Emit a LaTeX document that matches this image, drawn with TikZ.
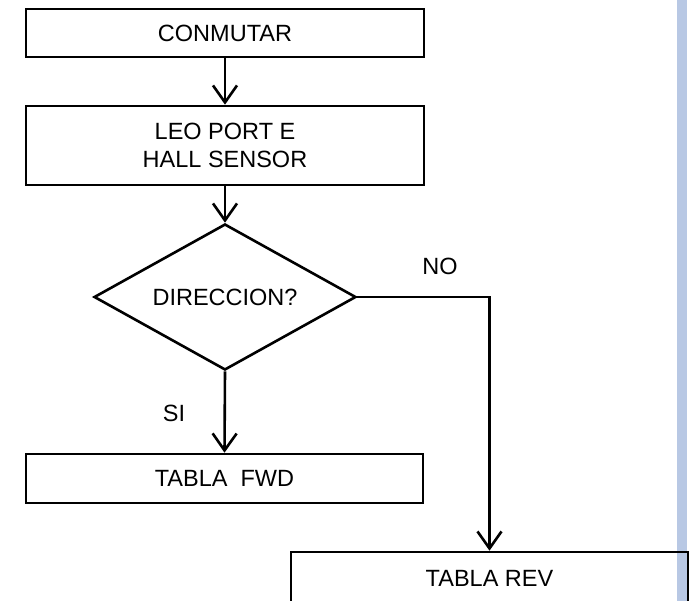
\documentclass[tikz,border=0pt]{standalone}
\usepackage{fontspec}
\setmainfont{Liberation Sans}
\usetikzlibrary{arrows.meta,shapes.geometric}
\definecolor{barblue}{HTML}{B8C8E4}
\begin{document}
\begin{tikzpicture}[x=1pt,y=-1pt,
  every node/.style={font=\fontsize{23.5}{28}\selectfont, inner sep=0pt},
  box/.style={draw, line width=2.6pt, rectangle, minimum width=398pt, align=center},
  decision/.style={draw, line width=2.6pt, diamond, aspect=1.76, minimum width=262pt, minimum height=146pt},
  flow/.style={line width=2.6pt, -{Straight Barb[length=17pt,width=24pt,line width=2.6pt]}},
  lbl/.style={}]
\useasboundingbox (0,0) rectangle (693,601);
\clip (0,0) rectangle (693,601);
\fill[white] (0,0) rectangle (693,601);
\fill[barblue] (677,0) rectangle (687,601);
\node[box, minimum height=48pt] (conm) at (225,33) {CONMUTAR};
\node[box, minimum height=79pt] (leo) at (225,145.5) {LEO PORT E\\HALL SENSOR};
\node[decision] (dir) at (225,297) {DIRECCION?};
\node[box, minimum height=49pt, minimum width=397pt] (fwd) at (224.5,478.5) {TABLA\ \ FWD};
\node[box, minimum height=52pt, minimum width=397pt] (rev) at (489.5,578) {TABLA REV};
\node[lbl] (si) at (174,413) {SI};
\node[lbl] (no) at (440,266) {NO};
\draw[flow] (conm.south) -- (leo.north);
\draw[flow] (leo.south) -- (dir.north);
\draw[flow] (dir.south) -- (fwd.north);
\draw[flow] (dir.east) -| (rev.north);
\end{tikzpicture}
\end{document}
